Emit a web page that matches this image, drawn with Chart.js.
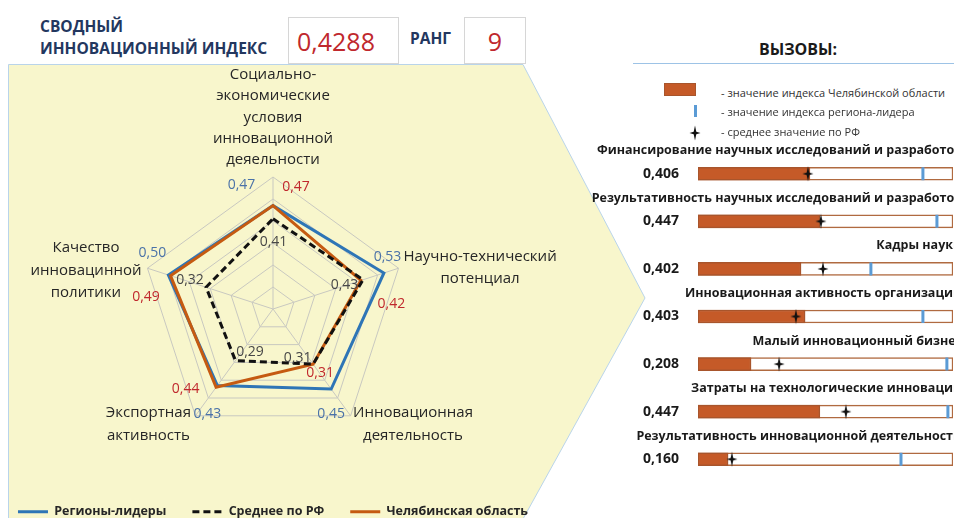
<!DOCTYPE html>
<html lang="ru"><head><meta charset="utf-8">
<script src="https://cdn.jsdelivr.net/npm/chart.js@4.4.1/dist/chart.umd.min.js"></script>
<style>
*{box-sizing:border-box}
html,body{margin:0;padding:0;width:954px;height:518px;overflow:hidden;background:#fff;font-family:'Open Sans','Noto Sans',sans-serif;color:#262626}
.abs{position:absolute}
#bg{left:0;top:0}
#hdr{left:40px;top:15px;font-weight:700;font-size:15.5px;line-height:22px;color:#23375f;white-space:nowrap}
.box{top:17px;height:47px;border:1px solid #d6d6d6;background:#fff;color:#c0282d;font-size:25px;display:flex;align-items:center}
#idx{left:288px;width:111px;padding-left:8px}
#rankLbl{left:410px;top:27px;font-weight:700;font-size:15.5px;color:#23375f}
#rank{left:464px;width:62px;justify-content:center}
#radar{left:-27px;top:60px}
#bars{left:590px;top:140px}
#chTitle{left:698px;width:200px;top:38px;text-align:center;font-weight:700;font-size:16px;color:#1a1a1a;line-height:22px}
#chLine{left:633px;top:63px;width:321px;height:1px;background:#9dc3e6}
.lgt{left:721px;font-size:11px;line-height:14px;color:#333;white-space:nowrap}
#lgRect{left:664px;top:83px;width:32px;height:13px;background:#c55a28;border:1px solid #a8552c}
#lgTick{left:694px;top:105px;width:3px;height:12px;background:#5b9bd5}
#lgStar{left:689px;top:125px}
</style></head>
<body>
<svg class="abs" id="bg" width="954" height="518"><polygon points="8.5,64.5 523,64.5 645,298 523,519 8.5,519" fill="#f8f6cc" stroke="#b9d4ea" stroke-width="1"/></svg>
<div class="abs" id="hdr">СВОДНЫЙ<br>ИННОВАЦИОННЫЙ ИНДЕКС</div>
<div class="abs box" id="idx"></div>
<div class="abs" id="rankLbl">РАНГ</div>
<div class="abs box" id="rank"></div>
<canvas class="abs" id="radar" width="600" height="468"></canvas>
<div class="abs" id="chTitle">ВЫЗОВЫ:</div>
<div class="abs" id="chLine"></div>
<div class="abs" id="lgRect"></div>
<div class="abs" id="lgTick"></div>
<canvas class="abs" id="lgStar" width="12" height="16"></canvas>
<div class="abs lgt" style="top:86px">- значение индекса Челябинской области</div>
<div class="abs lgt" style="top:105px">- значение индекса региона-лидера</div>
<div class="abs lgt" style="top:125px">- среднее значение по РФ</div>
<canvas class="abs" id="bars" width="364" height="378"></canvas>
<script>
// ---- summary ----
const summaryIndex = '0,4288';
const summaryRank = '9';

// ---- radar data ----
const radarAxes = [
  ['Социально-','экономические','условия','инновационной','деяельности'],
  ['Научно-технический','потенциал'],
  ['Инновационная','деятельность'],
  ['Экспортная','активность'],
  ['Качество','инновацинной','политики']
];
const seriesNames = ['Регионы-лидеры','Среднее по РФ','Челябинская область'];
const leaders     = [0.47, 0.53, 0.45, 0.43, 0.50];
const rfAverage   = [0.41, 0.43, 0.31, 0.29, 0.32];
const chelyabinsk = [0.47, 0.42, 0.31, 0.44, 0.49];

// ---- challenges data ----
const challengeTitles = [
  'Финансирование научных исследований и разработок',
  'Результативность научных исследований и разработок',
  'Кадры науки',
  'Инновационная активность организаций',
  'Малый инновационный бизнес',
  'Затраты на технологические инновации',
  'Результативность инновационной деятельности'
];
const challengeValues = ['0,406','0,447','0,402','0,403','0,208','0,447','0,160'];
const regionBar  = [0.439, 0.478, 0.404, 0.420, 0.208, 0.478, 0.118];
const leaderMark = [0.882, 0.937, 0.678, 0.882, 0.976, 0.980, 0.796];
const rfMark     = [0.431, 0.482, 0.490, 0.384, 0.318, 0.580, 0.133];
const fullScale  = [1, 1, 1, 1, 1, 1, 1];

document.getElementById('idx').textContent = summaryIndex;
document.getElementById('rank').textContent = summaryRank;

const FONT = "'Open Sans'";
const fmt = v => v.toFixed(2).replace('.', ',');

// ---- style-only placement of radar text ----
const axisLabelOffsets = [[0,-59.5,21.3],[81.5,0,22],[62.4,8.7,23],[-47,8,23],[-61.5,2.3,22.5]];
const valueLabelColors = ['#4a72a8','#474747','#c0282d'];
const valueLabelOffsets = [
  [[-31.5,-20.6],[3.6,-16],[0,25],[-10,28.5],[-16,-22]],
  [[0.5,23],[-18.5,5],[-15.5,-6],[14.5,-8.5],[-16,-7]],
  [[23,-19],[30.5,23.5],[7,9],[-30.5,1.5],[-24.5,21]]
];

const radarLabelPlugin = {
  id: 'radarLabels',
  afterDatasetsDraw(chart) {
    const ctx = chart.ctx, r = chart.scales.r;
    ctx.save();
    ctx.textAlign = 'center'; ctx.textBaseline = 'middle';
    ctx.font = '15px ' + FONT; ctx.fillStyle = '#262626';
    radarAxes.forEach((lines, i) => {
      const p = r.getPointPosition(i, r.drawingArea);
      const [dx, dy, lh] = axisLabelOffsets[i];
      const y0 = p.y + dy - (lines.length - 1) * lh / 2;
      lines.forEach((t, k) => ctx.fillText(t, p.x + dx, y0 + k * lh));
    });
    ctx.font = '14px ' + FONT;
    chart.data.datasets.forEach((ds, di) => {
      const meta = chart.getDatasetMeta(di);
      ctx.fillStyle = valueLabelColors[di];
      meta.data.forEach((pt, j) => {
        const [dx, dy] = valueLabelOffsets[di][j];
        ctx.fillText(fmt(ds.data[j]), pt.x + dx, pt.y + dy);
      });
    });
    ctx.restore();
  }
};

const radarColors = ['#2e75b6', '#111111', '#c55a11'];
const radar = new Chart(document.getElementById('radar'), {
  type: 'radar',
  data: {
    labels: radarAxes.map(a => a.join(' ')),
    datasets: [
      {label: seriesNames[0], data: leaders, borderColor: radarColors[0], borderWidth: 3, fill: false, pointRadius: 0, order: 2},
      {label: seriesNames[1], data: rfAverage, borderColor: radarColors[1], borderWidth: 3, borderDash: [7, 4], fill: false, pointRadius: 0, order: 0},
      {label: seriesNames[2], data: chelyabinsk, borderColor: radarColors[2], borderWidth: 3, fill: false, pointRadius: 0, order: 1}
    ]
  },
  options: {
    responsive: false, animation: false, devicePixelRatio: 1,
    layout: {padding: {left: 0, right: 0, top: 117, bottom: 0}, autoPadding: false},
    elements: {line: {tension: 0, borderJoinStyle: 'miter'}},
    plugins: {
      tooltip: {enabled: false},
      subtitle: {display: true, text: '', position: 'bottom', weight: 500, font: {size: 1}, padding: {top: 40, bottom: 0}},
      legend: {
        position: 'bottom',
        labels: {
          usePointStyle: true, pointStyleWidth: 30, padding: 26,
          font: {family: 'Open Sans', weight: 'bold', size: 12.5}, color: '#262626',
          generateLabels: (chart) => chart.data.datasets.map((ds, i) => ({
            text: ds.label, strokeStyle: ds.borderColor, fillStyle: ds.borderColor,
            lineWidth: 3, lineDash: ds.borderDash || [], pointStyle: 'line',
            hidden: false, datasetIndex: i, fontColor: '#262626'
          }))
        }
      }
    },
    scales: {
      r: {
        min: 0, max: 0.6,
        ticks: {display: false, stepSize: 0.1},
        grid: {color: '#c8c8c0', lineWidth: 1},
        angleLines: {color: '#c8c8c0', lineWidth: 1},
        pointLabels: {display: false}
      }
    }
  },
  plugins: [radarLabelPlugin]
});
// make the web square (264 px high) by sizing the spacer between web and legend
(function () {
  const ca = radar.chartArea;
  radar.options.plugins.subtitle.padding.top += (ca.bottom - (ca.top + 264));
  radar.update('none');
})();

// ---- star marker ----
function drawStar(c) {
  const g = c.getContext('2d');
  const cx = c.width / 2, cy = c.height / 2, rx = c.width / 2 - 0.5, ry = c.height / 2 - 0.5, k = 1.3;
  g.fillStyle = '#111';
  g.beginPath();
  g.moveTo(cx, cy - ry); g.lineTo(cx + k, cy - k); g.lineTo(cx + rx, cy); g.lineTo(cx + k, cy + k);
  g.lineTo(cx, cy + ry); g.lineTo(cx - k, cy + k); g.lineTo(cx - rx, cy); g.lineTo(cx - k, cy - k);
  g.closePath(); g.fill();
}
const starImg = document.createElement('canvas');
starImg.width = 12; starImg.height = 16;
drawStar(starImg);
drawStar(document.getElementById('lgStar'));

const titlePlugin = {
  id: 'rowTitles',
  afterDraw(chart) {
    const ctx = chart.ctx, y = chart.scales.y;
    ctx.save();
    ctx.font = 'bold 12.5px ' + FONT; ctx.fillStyle = '#1a1a1a';
    ctx.textAlign = 'right'; ctx.textBaseline = 'middle';
    challengeTitles.forEach((t, i) => ctx.fillText(t, 372, y.getPixelForValue(i) - 23));
    ctx.restore();
  }
};

new Chart(document.getElementById('bars'), {
  type: 'bar',
  data: {
    labels: challengeTitles,
    datasets: [
      {type: 'line', label: 'среднее значение по РФ', data: rfMark, indexAxis: 'y', showLine: false,
       pointStyle: starImg, pointRadius: 8, order: 0},
      {type: 'line', label: 'значение индекса региона-лидера', data: leaderMark, indexAxis: 'y', showLine: false,
       pointStyle: 'line', pointRotation: 90, pointRadius: 6.5, pointBorderWidth: 3, pointBorderColor: '#5b9bd5', borderColor: '#5b9bd5', order: 1},
      {label: 'значение индекса Челябинской области', data: regionBar, backgroundColor: '#c55a28', borderColor: '#a8552c',
       borderWidth: 1.5, borderSkipped: false, barThickness: 13, grouped: false, order: 2},
      {label: 'шкала', data: fullScale, backgroundColor: '#ffffff', borderColor: '#b06a40',
       borderWidth: 1.5, borderSkipped: false, barThickness: 13, grouped: false, order: 3}
    ]
  },
  options: {
    indexAxis: 'y', responsive: false, animation: false, devicePixelRatio: 1,
    layout: {padding: {top: 10, bottom: 35, right: 1, left: 0}, autoPadding: false},
    plugins: {legend: {display: false}, tooltip: {enabled: false}},
    scales: {
      x: {min: 0, max: 1, display: false},
      y: {
        type: 'category', offset: true,
        grid: {display: false, drawTicks: false}, border: {display: false},
        ticks: {color: '#1a1a1a', font: {family: 'Open Sans', weight: 'bold', size: 14}, padding: 19,
                callback: (v, i) => challengeValues[i]},
        afterFit: (s) => { s.width = 108; s.paddingTop = 0; s.paddingBottom = 0; }
      }
    }
  },
  plugins: [titlePlugin]
});
</script>
</body></html>
